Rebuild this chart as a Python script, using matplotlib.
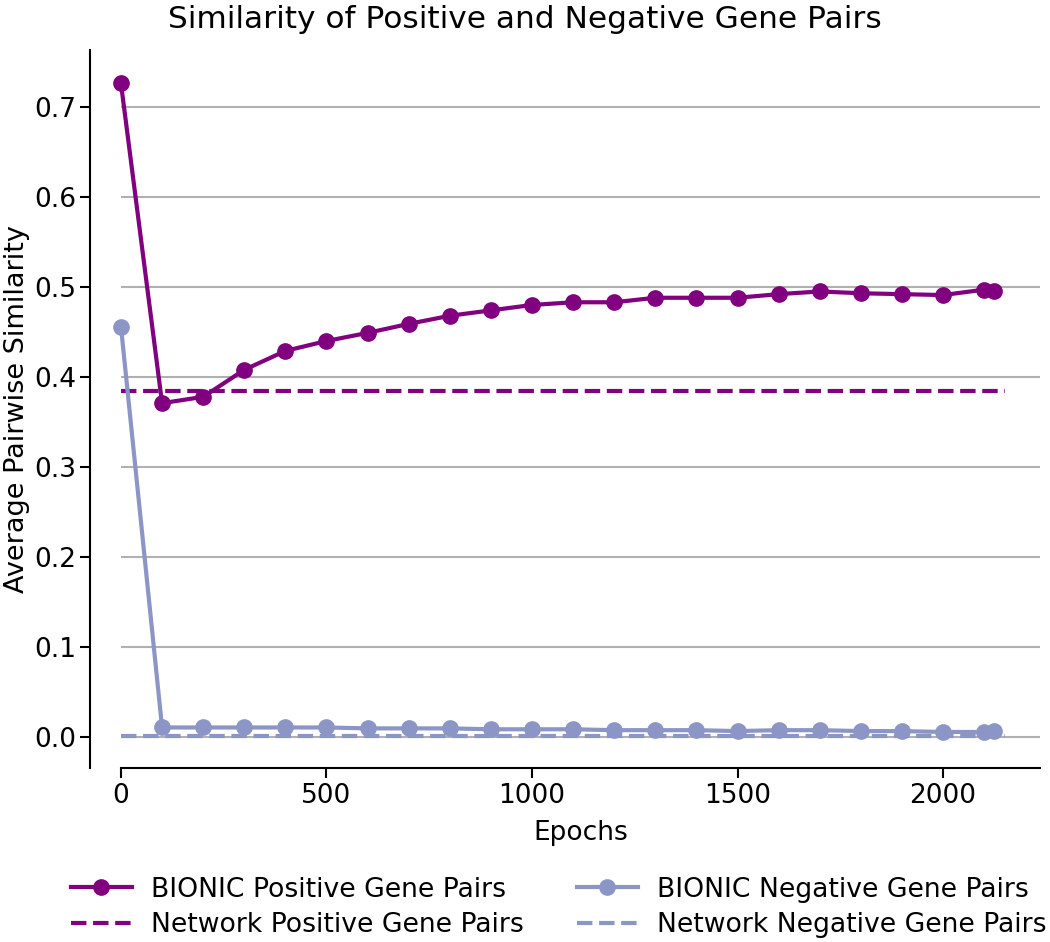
import matplotlib
matplotlib.use("Agg")
from matplotlib import pyplot as plt

# data
epochs = [0, 100, 200, 300, 400, 500, 600, 700, 800, 900, 1000, 1100, 1200,
          1300, 1400, 1500, 1600, 1700, 1800, 1900, 2000, 2100, 2125]
bionic_pos = [0.726, 0.371, 0.378, 0.408, 0.429, 0.440, 0.449, 0.459, 0.468,
              0.474, 0.480, 0.483, 0.483, 0.488, 0.488, 0.488, 0.492, 0.495,
              0.493, 0.492, 0.491, 0.497, 0.496]
bionic_neg = [0.456, 0.011, 0.011, 0.011, 0.011, 0.011, 0.010, 0.010, 0.010,
              0.009, 0.009, 0.009, 0.008, 0.008, 0.008, 0.007, 0.008, 0.008,
              0.007, 0.007, 0.006, 0.006, 0.007]
net_epochs = [0, 2150]
net_pos = [0.385, 0.385]
net_neg = [0.002, 0.002]

pos_color = "#800080"
neg_color = "#8c96c6"

plt.rcParams['font.size'] = 19

fig = plt.figure(figsize=(10.5, 9.42), dpi=100)
ax = fig.add_axes([0.1152, 0.1847, 0.8753, 0.7622])

ax.plot(epochs, bionic_pos, "-o", color=pos_color, lw=3, ms=11,
        label="BIONIC Positive Gene Pairs", clip_on=False, zorder=3)
ax.plot(net_epochs, net_pos, "--", color=pos_color, lw=3,
        label="Network Positive Gene Pairs", zorder=2)
ax.plot(epochs, bionic_neg, "-o", color=neg_color, lw=3, ms=11,
        label="BIONIC Negative Gene Pairs", clip_on=False, zorder=3)
ax.plot(net_epochs, net_neg, "--", color=neg_color, lw=3,
        label="Network Negative Gene Pairs", zorder=2)

ax.set_xlim(0, 2236)
ax.set_ylim(-0.034, 0.763)
ax.set_yticks([0.0, 0.1, 0.2, 0.3, 0.4, 0.5, 0.6, 0.7])
ax.set_xticks([0, 500, 1000, 1500, 2000])
ax.yaxis.grid(True, color="#b0b0b0", lw=1.5)
ax.set_axisbelow(True)

ax.spines['top'].set_visible(False)
ax.spines['right'].set_visible(False)
ax.spines['left'].set_position(('outward', 22))
ax.spines['left'].set_linewidth(1.5)
ax.spines['bottom'].set_linewidth(1.5)
ax.tick_params(width=1.5, length=7, labelsize=19)

ax.set_xlabel("Epochs", fontsize=19, labelpad=8)
ax.set_ylabel("Average Pairwise Similarity", fontsize=19.5, labelpad=3)
fig.suptitle("Similarity of Positive and Negative Gene Pairs", fontsize=22.5,
             x=0.5, y=0.995, va="top")

ax.legend(loc="upper center", bbox_to_anchor=(0.476, -0.118), ncol=2,
          frameon=False, fontsize=19.2, columnspacing=2.0, handlelength=2.3,
          handletextpad=0.7, labelspacing=0.35)

fig.savefig("out.png")
plt.close(fig)
